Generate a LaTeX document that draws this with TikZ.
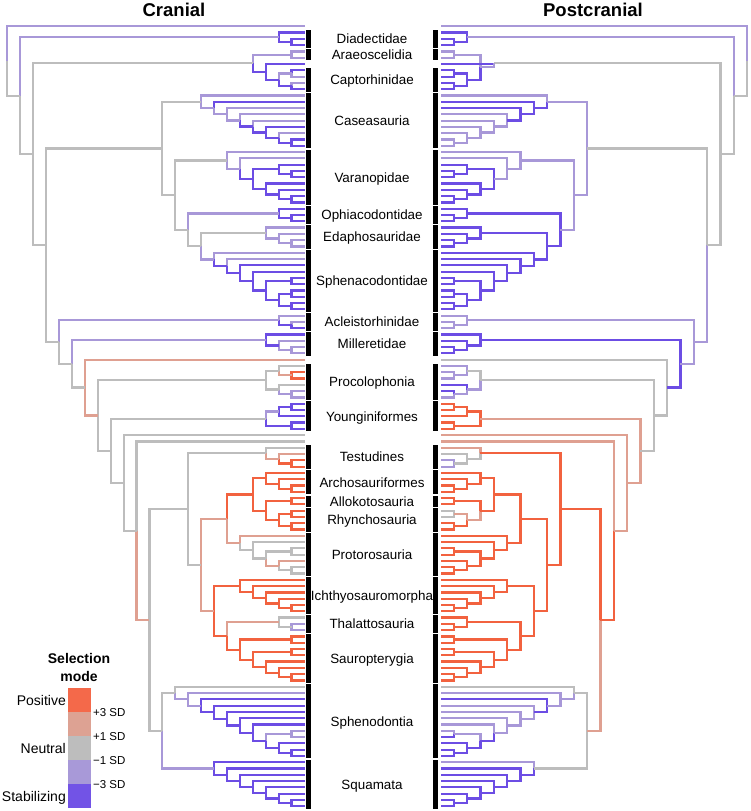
\documentclass[tikz,border=0pt]{standalone}
\usepackage{fontspec}
\setmainfont{Liberation Sans}
\definecolor{cS}{HTML}{6C4DE4}
\definecolor{cs}{HTML}{A898D8}
\definecolor{cN}{HTML}{BDBDBD}
\definecolor{cp}{HTML}{DFA091}
\definecolor{cP}{HTML}{F2623F}
\definecolor{lgP}{HTML}{F4694A}
\definecolor{lgp}{HTML}{DDA293}
\definecolor{lgN}{HTML}{BDBDBD}
\definecolor{lgs}{HTML}{A899D8}
\definecolor{lgS}{HTML}{7253E6}
\def\trYzero{26.3}
\def\trDY{6.29}
\def\trXL{304.5}
\def\trXR{440.5}
\def\trSL{12.92}
\def\trSR{13.33}
\makeatletter
\newcount\tr@tips
\newcount\tr@nodes
\gdef\tr@stack{}
\def\tr@push#1{\xdef\tr@stack{#1,\tr@stack}}
\def\tr@pop#1{\expandafter\tr@@pop\tr@stack\@nil#1}
\def\tr@@pop#1,#2\@nil#3{\xdef#3{#1}\xdef\tr@stack{#2}}
\def\tr@get#1#2{\csname tr@#1@#2\endcsname}
\def\tr@set#1#2#3{\expandafter\xdef\csname tr@#1@#2\endcsname{#3}}
\newcommand\trY[1]{\csname tr@y@#1\endcsname}
\def\tr@draw#1#2#3{\draw[branch,#1] (#2) |- (#3);}
\newcommand\Tp[2]{%
  \global\advance\tr@nodes by 1\relax
  \edef\tr@n{\the\tr@nodes}%
  \pgfmathsetmacro\tr@y{\trYzero+\the\tr@tips*\trDY}%
  \tr@set{y}{\tr@n}{\tr@y}%
  \tr@set{h}{\tr@n}{0}%
  \tr@set{l}{\tr@n}{#1}%
  \tr@set{r}{\tr@n}{#2}%
  \coordinate (L\tr@n) at (\trXL,\tr@y);
  \coordinate (R\tr@n) at (\trXR,\tr@y);
  \tr@push{\tr@n}%
  \global\advance\tr@tips by 1\relax
}
\newcommand\Jn[2]{%
  \tr@pop\tr@b\tr@pop\tr@a
  \global\advance\tr@nodes by 1\relax
  \edef\tr@n{\the\tr@nodes}%
  \pgfmathtruncatemacro\tr@h{max(\tr@get{h}{\tr@a},\tr@get{h}{\tr@b})+1}%
  \pgfmathsetmacro\tr@y{(\tr@get{y}{\tr@a}+\tr@get{y}{\tr@b})/2}%
  \tr@set{y}{\tr@n}{\tr@y}%
  \tr@set{h}{\tr@n}{\tr@h}%
  \tr@set{l}{\tr@n}{#1}%
  \tr@set{r}{\tr@n}{#2}%
  \pgfmathsetmacro\tr@xl{\trXL-\tr@h*\trSL}%
  \pgfmathsetmacro\tr@xr{\trXR+\tr@h*\trSR}%
  \coordinate (L\tr@n) at (\tr@xl,\tr@y);
  \coordinate (R\tr@n) at (\tr@xr,\tr@y);
  \edef\tr@tmp{%
    \noexpand\tr@draw{e\tr@get{l}{\tr@a}}{L\tr@n}{L\tr@a}%
    \noexpand\tr@draw{e\tr@get{l}{\tr@b}}{L\tr@n}{L\tr@b}%
    \noexpand\tr@draw{e\tr@get{r}{\tr@a}}{R\tr@n}{R\tr@a}%
    \noexpand\tr@draw{e\tr@get{r}{\tr@b}}{R\tr@n}{R\tr@b}}%
  \tr@tmp
  \tr@push{\tr@n}%
}
\newcommand\clade[3]{%
  \pgfmathsetmacro\cl@a{\trYzero+#1*\trDY-2.4}%
  \pgfmathsetmacro\cl@b{\trYzero+#2*\trDY+2.4}%
  \pgfmathsetmacro\cl@m{\trYzero+(#1+#2)/2*\trDY+4.8}%
  \fill[black] (306.3,\cl@a) rectangle (310.7,\cl@b);
  \fill[black] (433.3,\cl@a) rectangle (437.7,\cl@b);
  \node[cladelabel] (lab#1) at (372,\cl@m) {#3};
}
\makeatother
\tikzset{
  branch/.style={line width=2.2pt, line cap=butt, line join=miter},
  eS/.style={draw=cS}, es/.style={draw=cs}, eN/.style={draw=cN},
  ep/.style={draw=cp}, eP/.style={draw=cP}, eX/.style={draw=none},
  cladelabel/.style={font=\fontsize{13.4}{15}\selectfont, anchor=base, inner sep=0pt},
  titlelabel/.style={font=\bfseries\fontsize{18.5}{20}\selectfont, anchor=base, inner sep=0pt},
  legtitle/.style={font=\bfseries\fontsize{14}{16}\selectfont, anchor=base, inner sep=0pt},
  legtext/.style={font=\fontsize{14}{16}\selectfont, anchor=base east, inner sep=0pt},
  legtick/.style={font=\fontsize{11.5}{13}\selectfont, anchor=base west, inner sep=0pt}
}
\begin{document}
\begin{tikzpicture}[x=1pt,y=-1pt]
\useasboundingbox (0,0) rectangle (750,811);
% ---- tree (postfix): \Tp{left}{right} tip, \Jn{left}{right} join
\Tp{s}{s}
\Tp{S}{S}\Tp{S}{S}\Tp{S}{S}\Jn{S}{S}\Jn{s}{s}
% Araeoscelidia, single, Captorhinidae (right side redrawn below)
\Tp{s}{s}\Tp{s}{s}\Jn{s}{X}
\Tp{S}{X}
\Tp{S}{S}\Tp{s}{S}\Jn{s}{S}\Tp{s}{S}\Tp{S}{S}\Jn{S}{S}\Jn{S}{X}
\Jn{S}{X}
\Jn{N}{N}
% Caseasauria
\Tp{s}{s}\Tp{S}{S}\Tp{s}{S}\Tp{s}{s}\Tp{s}{s}\Tp{S}{s}\Tp{s}{s}\Tp{S}{s}\Tp{S}{s}
\Jn{S}{s}\Jn{S}{s}\Jn{S}{s}\Jn{S}{s}\Jn{s}{S}\Jn{s}{S}\Jn{s}{S}\Jn{N}{s}
% Varanopidae
\Tp{s}{s}\Tp{s}{s}
\Tp{S}{S}\Tp{S}{S}\Tp{S}{S}\Jn{S}{S}\Jn{S}{S}
\Tp{S}{S}\Tp{S}{S}\Tp{S}{S}\Tp{S}{S}\Jn{S}{S}\Jn{S}{S}\Jn{S}{S}
\Jn{S}{s}\Jn{s}{s}\Jn{N}{s}
% Ophiacodontidae
\Tp{S}{S}\Tp{S}{S}\Tp{S}{S}\Jn{S}{S}\Jn{s}{S}
% Edaphosauridae
\Tp{s}{S}\Tp{s}{S}\Tp{s}{S}\Tp{s}{S}\Jn{s}{S}\Jn{s}{S}\Jn{N}{S}
% Sphenacodontidae
\Tp{s}{S}\Tp{s}{S}\Tp{S}{S}\Tp{S}{S}
\Tp{S}{S}\Tp{S}{S}\Jn{S}{S}
\Tp{S}{S}\Tp{S}{S}\Jn{S}{S}\Tp{S}{S}\Tp{S}{S}\Jn{S}{S}\Jn{S}{S}
\Jn{S}{S}\Jn{S}{S}\Jn{S}{S}\Jn{S}{S}\Jn{s}{S}
\Jn{N}{S}\Jn{N}{s}\Jn{N}{s}\Jn{N}{N}
% Acleistorhinidae
\Tp{s}{s}\Tp{s}{s}\Tp{S}{s}\Jn{S}{s}\Jn{s}{s}
% Millerettidae
\Tp{S}{S}\Tp{s}{S}\Tp{s}{S}\Tp{s}{S}\Jn{s}{S}\Jn{S}{S}\Jn{s}{S}
% single
\Tp{p}{N}
% Procolophonia
\Tp{N}{s}\Tp{P}{s}\Tp{P}{s}\Jn{p}{s}\Jn{N}{N}
\Tp{N}{S}\Tp{s}{S}\Tp{s}{s}\Jn{s}{s}\Jn{N}{s}
\Jn{N}{N}
% Younginiformes
\Tp{S}{P}\Tp{S}{P}\Jn{S}{P}\Tp{S}{P}\Jn{s}{P}
\Tp{S}{P}\Tp{S}{P}\Jn{S}{P}
\Jn{N}{p}
% singles
\Tp{N}{p}
\Tp{N}{p}
% Testudines
\Tp{N}{p}\Tp{p}{N}\Tp{P}{s}\Tp{P}{s}\Jn{P}{N}\Jn{p}{N}\Jn{N}{P}
% Archosauriformes
\Tp{P}{P}\Tp{P}{P}\Tp{P}{P}\Tp{P}{P}\Jn{P}{P}\Jn{P}{P}\Jn{P}{P}
% Allokotosauria
\Tp{P}{P}\Tp{P}{P}\Jn{P}{P}
% Rhynchosauria
\Tp{P}{N}\Tp{P}{N}\Jn{P}{p}\Tp{P}{P}\Tp{P}{P}\Jn{P}{P}\Jn{P}{p}
\Jn{P}{P}\Jn{P}{P}
% Protorosauria
\Tp{p}{P}\Tp{N}{P}\Tp{N}{P}\Tp{N}{P}\Jn{N}{P}\Tp{p}{P}\Tp{N}{P}\Tp{N}{P}\Jn{N}{P}\Jn{p}{P}\Jn{N}{P}\Jn{N}{P}\Jn{p}{P}
\Jn{p}{P}
% Ichthyosauromorpha
\Tp{P}{P}\Tp{P}{P}\Tp{P}{P}\Tp{P}{P}\Tp{P}{P}\Tp{P}{P}
\Jn{P}{P}\Jn{P}{P}\Jn{P}{P}\Jn{P}{P}\Jn{P}{P}
% Thalattosauria
\Tp{N}{P}\Tp{s}{P}\Tp{s}{P}\Jn{N}{P}\Jn{p}{P}
% Sauropterygia
\Tp{P}{P}\Tp{P}{P}\Jn{P}{P}
\Tp{P}{P}\Tp{P}{P}\Jn{P}{P}
\Tp{P}{P}\Tp{P}{P}\Tp{P}{P}\Tp{P}{P}\Jn{P}{P}\Jn{P}{P}\Jn{P}{P}
\Jn{P}{P}\Jn{P}{P}
\Jn{P}{P}\Jn{p}{P}\Jn{N}{P}
\Jn{N}{P}
% Sphenodontia
\Tp{N}{N}\Tp{s}{s}\Tp{S}{S}\Tp{S}{s}\Tp{S}{s}\Tp{S}{s}\Tp{S}{s}
\Tp{s}{s}\Tp{s}{S}\Jn{s}{s}\Tp{S}{S}\Tp{S}{S}\Tp{S}{S}\Jn{S}{S}\Jn{S}{S}\Jn{S}{S}
\Jn{S}{s}\Jn{S}{s}\Jn{S}{s}\Jn{S}{S}\Jn{s}{s}\Jn{s}{s}\Jn{N}{N}
% Squamata
\Tp{S}{s}\Tp{S}{S}\Tp{S}{S}\Tp{S}{S}\Tp{S}{S}\Tp{S}{S}\Tp{S}{S}\Tp{S}{S}
\Jn{S}{S}\Jn{S}{S}\Jn{S}{S}\Jn{S}{S}\Jn{S}{S}\Jn{S}{S}\Jn{s}{N}
% backbone
\Jn{N}{p}\Jn{p}{P}\Jn{N}{p}\Jn{N}{p}\Jn{N}{N}\Jn{p}{N}\Jn{N}{S}\Jn{N}{s}\Jn{N}{s}\Jn{N}{N}
\Jn{N}{N}\Jn{N}{N}\Jn{N}{N}
% ---- right-side grouping of Araeoscelidia, single tip and Captorhinidae
\pgfmathsetmacro\rhy{(\trY{9}+\trY{17})/2}
\coordinate (RH3) at (480.49,\rhy);
\draw[branch,es] (RH3) |- (R9);
\draw[branch,eS] (RH3) |- (R17);
\draw[branch,eS] (R19) |- (R10);
\draw[branch,es] (R19) |- (RH3);
% ---- clades
\clade{1}{3}{Diadectidae}
\clade{4}{5}{Araeoscelidia}
\clade{7}{10}{Captorhinidae}
\clade{11}{19}{Caseasauria}
\clade{20}{28}{Varanopidae}
\clade{29}{31}{Ophiacodontidae}
\clade{32}{35}{Edaphosauridae}
\clade{36}{45}{Sphenacodontidae}
\clade{46}{48}{Acleistorhinidae}
\clade{49}{52}{Milleretidae}
\clade{54}{59}{Procolophonia}
\clade{60}{64}{Younginiformes}
\clade{67}{70}{Testudines}
\clade{71}{74}{Archosauriformes}
\clade{75}{76}{Allokotosauria}
\clade{77}{80}{Rhynchosauria}
\clade{81}{87}{Protorosauria}
\clade{88}{93}{Ichthyosauromorpha}
\clade{94}{96}{Thalattosauria}
\clade{97}{104}{Sauropterygia}
\clade{105}{116}{Sphenodontia}
\clade{117}{124}{Squamata}
% ---- titles
\node[titlelabel] (tcran) at (174,16.5) {Cranial};
\node[titlelabel] (tpost) at (593,16.5) {Postcranial};
% ---- legend
\node[legtitle] (lg1) at (79,663) {Selection};
\node[legtitle] (lg2) at (79,681.5) {mode};
\fill[lgP] (68,688) rectangle (91,712);
\fill[lgp] (68,712) rectangle (91,736);
\fill[lgN] (68,736) rectangle (91,760);
\fill[lgs] (68,760) rectangle (91,784);
\fill[lgS] (68,784) rectangle (91,808);
\node[legtext] (lgpos) at (66,705) {Positive};
\node[legtext] (lgneu) at (66,753) {Neutral};
\node[legtext] (lgsta) at (66,801) {Stabilizing};
\node[legtick] (tk1) at (93,716.5) {+3 SD};
\node[legtick] (tk2) at (93,740.5) {+1 SD};
\node[legtick] (tk3) at (93,764.5) {−1 SD};
\node[legtick] (tk4) at (93,788.5) {−3 SD};
\end{tikzpicture}
\end{document}
